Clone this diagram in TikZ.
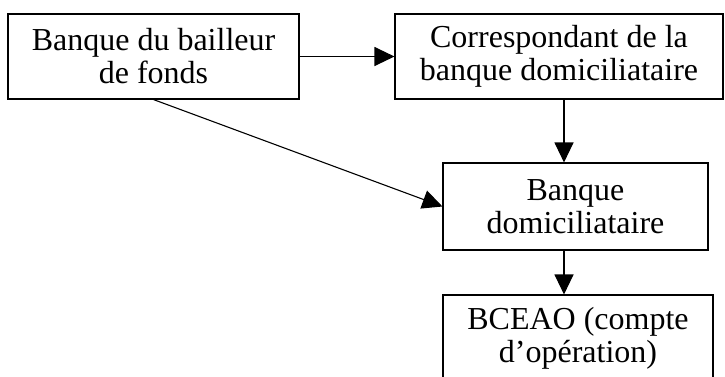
\documentclass[tikz,border=0pt]{standalone}
\usepackage{fontspec}
\setmainfont{Liberation Serif}
\usetikzlibrary{arrows.meta}
\begin{document}
\begin{tikzpicture}[x=1pt,y=-1pt,
  box/.style={draw, line width=1.1pt, align=center, inner sep=0pt, font=\fontsize{32}{33}\selectfont},
  arr/.style={line width=1.1pt, -{Triangle[length=20pt,width=19pt]}}]
\useasboundingbox (0,0) rectangle (725,376);
\clip (0,0) rectangle (725,376);
\node[box, minimum width=291pt, minimum height=85pt] (A) at (153.5,56.5) {Banque du bailleur\\de fonds};
\node[box, minimum width=328pt, minimum height=85pt] (B) at (559,56.5) {Correspondant de la\\banque domiciliataire};
\node[box, minimum width=265pt, minimum height=87pt] (C) at (575.5,206.5) {Banque\\domiciliataire};
\node[box, minimum width=270pt, minimum height=87pt] (D) at (578,338.5) {BCEAO (compte\\d’opération)};
\draw[arr] (A.east) -- (B.west);
\draw[arr] (A.south) -- (C.west);
\draw[arr] ([xshift=5pt]B.south) -- ([xshift=5pt]B.south |- C.north);
\draw[arr] ([xshift=-11.5pt]C.south) -- ([xshift=-11.5pt]C.south |- D.north);
\end{tikzpicture}
\end{document}
